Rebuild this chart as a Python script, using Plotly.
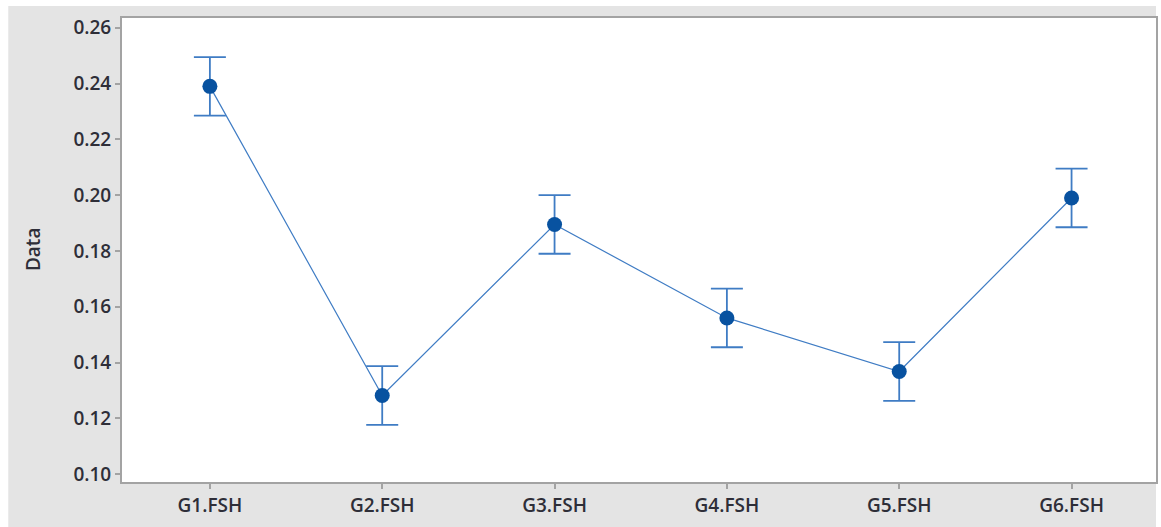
import plotly.graph_objects as go

# Interval plot of FSH by group (mean with pooled-SD interval)
groups = ["G1.FSH", "G2.FSH", "G3.FSH", "G4.FSH", "G5.FSH", "G6.FSH"]
means = [0.2390, 0.1282, 0.1895, 0.1560, 0.1368, 0.1990]
half_interval = [0.0105, 0.0105, 0.0105, 0.0105, 0.0105, 0.0105]

y_ticks = [0.10, 0.12, 0.14, 0.16, 0.18, 0.20, 0.22, 0.24, 0.26]
y_tick_text = [f"{v:.2f}" for v in y_ticks]

line_blue = "#3f7cc4"
mark_blue = "#0852a0"
axis_grey = "#a3a3a3"
text_col = "#2e2e38"

fig = go.Figure()
fig.add_trace(go.Scatter(
    x=list(range(len(groups))),
    y=means,
    mode="lines+markers",
    line=dict(color=line_blue, width=1.2),
    marker=dict(color=mark_blue, size=15, symbol="circle"),
    error_y=dict(type="data", array=half_interval, visible=True,
                 color=line_blue, thickness=1.8, width=16),
    showlegend=False,
))

# grey panel around the plot area, white data region on top of it
fig.add_shape(type="rect", xref="paper", yref="paper",
              x0=-0.110, x1=1.0, y0=-0.097, y1=1.026,
              fillcolor="#e4e4e4", line=dict(width=0), layer="below")
fig.add_shape(type="rect", xref="paper", yref="paper",
              x0=0, x1=1, y0=0, y1=1,
              fillcolor="white", line=dict(width=0), layer="below")

fig.add_annotation(text="Data", xref="paper", yref="paper",
                   x=-0.086, y=0.5, xanchor="center", yanchor="middle",
                   textangle=-90, showarrow=False,
                   font=dict(family="Open Sans", size=19, color=text_col, weight=600))

axis_font = dict(family="Open Sans", size=19, color=text_col, weight=600)

fig.update_layout(
    width=1161, height=527,
    margin=dict(l=122, r=3, t=18, b=45),
    paper_bgcolor="white",
    plot_bgcolor="white",
    xaxis=dict(
        range=[-0.51, 5.49],
        tickvals=list(range(len(groups))), ticktext=groups,
        showgrid=False, zeroline=False,
        showline=True, linecolor=axis_grey, linewidth=2, mirror=True,
        ticks="outside", ticklen=5, tickcolor=axis_grey, tickwidth=2,
        tickfont=axis_font,
    ),
    yaxis=dict(
        range=[0.0972, 0.2635],
        tickvals=y_ticks, ticktext=y_tick_text,
        showgrid=False, zeroline=False,
        showline=True, linecolor=axis_grey, linewidth=2, mirror=True,
        ticks="outside", ticklen=5, tickcolor=axis_grey, tickwidth=2,
        tickfont=axis_font,
    ),
)

fig.write_html("out.html")
